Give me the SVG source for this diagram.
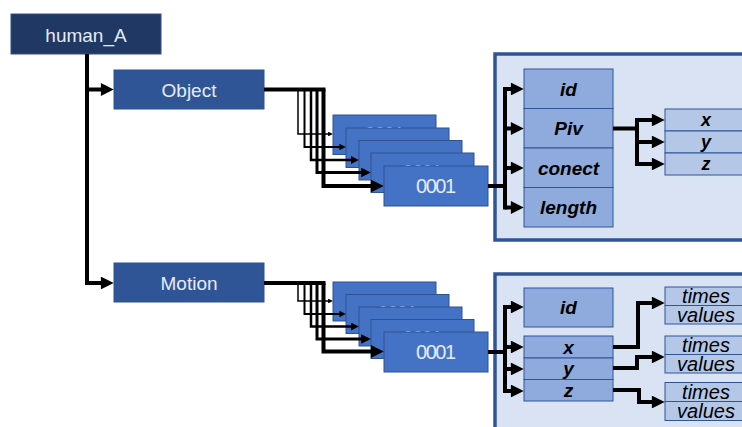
<svg xmlns="http://www.w3.org/2000/svg" width="742" height="427" viewBox="0 0 742 427">
  <defs>
    <!-- arrowhead scaled by stroke width; path ends 1.2 stroke widths before the tip -->
    <marker id="ah" viewBox="0 0 10 10" refX="6.5" refY="5" markerWidth="3.4" markerHeight="3.2" orient="auto" markerUnits="strokeWidth">
      <path d="M0,0 L10,5 L0,10 z" fill="#000"/>
    </marker>
    <style>
      .root { fill: #203864; stroke: #2F528F; stroke-width: 1; }
      .cat { fill: #2F5597; stroke: #2F528F; stroke-width: 1; }
      .rec { fill: #4472C4; stroke: #2F528F; stroke-width: 1; }
      .panel { fill: #DAE3F3; stroke: #2F5597; stroke-width: 3.5; }
      .field { fill: #8FAADC; stroke: #2F5597; stroke-width: 1; }
      .sub { fill: #B4C7E7; stroke: #2F5597; stroke-width: 1; }
      .lt { font-family: "Liberation Sans", Arial, sans-serif; fill: #E6ECF7; text-anchor: middle; dominant-baseline: central; }
      .num { font-family: "Liberation Sans", Arial, sans-serif; fill: #E6ECF7; text-anchor: middle; dominant-baseline: central; font-size: 20px; }
      .bi { font-family: "Liberation Sans", Arial, sans-serif; fill: #000; font-weight: bold; font-style: italic; text-anchor: middle; dominant-baseline: central; }
      .it { font-family: "Liberation Sans", Arial, sans-serif; fill: #000; font-style: italic; text-anchor: middle; dominant-baseline: central; font-size: 20px; }
      .ln { fill: none; stroke: #000; stroke-linejoin: miter; }
    </style>
  </defs>

  <!-- root -->
  <g id="human_A">
    <rect class="root" x="11" y="14" width="150" height="40"/>
    <text class="lt" x="86" y="35" font-size="19">human_A</text>
  </g>

  <!-- categories -->
  <g id="object">
    <rect class="cat" x="114" y="70" width="150" height="39"/>
    <text class="lt" x="189" y="90" font-size="19">Object</text>
  </g>
  <g id="motion">
    <rect class="cat" x="114" y="263" width="150" height="39"/>
    <text class="lt" x="189" y="283" font-size="19">Motion</text>
  </g>

  <!-- object records (stacked) -->
  <g id="obj-rec-1"><rect class="rec" x="333" y="115" width="103" height="39.5"/><text class="num" x="384.5" y="134" textLength="40">0001</text></g>
  <g id="obj-rec-2"><rect class="rec" x="346" y="128" width="103" height="39.5"/><text class="num" x="397.5" y="147" textLength="40">0001</text></g>
  <g id="obj-rec-3"><rect class="rec" x="359" y="140.5" width="103" height="39.5"/><text class="num" x="410.5" y="159.5" textLength="40">0001</text></g>
  <g id="obj-rec-4"><rect class="rec" x="371" y="153" width="103" height="39.5"/><text class="num" x="422.5" y="172" textLength="40">0001</text></g>
  <g id="obj-rec-5"><rect class="rec" x="384" y="166" width="104" height="40"/><text class="num" x="436" y="186" textLength="40">0001</text></g>

  <!-- motion records (stacked) -->
  <g id="mot-rec-1"><rect class="rec" x="333" y="282" width="103" height="39"/><text class="num" x="384.5" y="300.5" textLength="40">0001</text></g>
  <g id="mot-rec-2"><rect class="rec" x="346" y="294.5" width="103" height="39"/><text class="num" x="397.5" y="313" textLength="40">0001</text></g>
  <g id="mot-rec-3"><rect class="rec" x="359" y="307" width="103" height="39"/><text class="num" x="410.5" y="325.5" textLength="40">0001</text></g>
  <g id="mot-rec-4"><rect class="rec" x="371" y="319.5" width="103" height="39"/><text class="num" x="422.5" y="338" textLength="40">0001</text></g>
  <g id="mot-rec-5"><rect class="rec" x="384" y="332" width="104" height="40"/><text class="num" x="436" y="352" textLength="40">0001</text></g>

  <!-- object record detail -->
  <g id="object-detail">
    <rect class="panel" x="495" y="54" width="270" height="186"/>
    <g id="obj-id"><rect class="field" x="524" y="69" width="89" height="39.5"/><text class="bi" x="568.5" y="89" font-size="19">id</text></g>
    <g id="obj-piv"><rect class="field" x="524" y="108.5" width="89" height="39.5"/><text class="bi" x="568.5" y="128.5" font-size="19">Piv</text></g>
    <g id="obj-conect"><rect class="field" x="524" y="148" width="89" height="39.5"/><text class="bi" x="568.5" y="168" font-size="19">conect</text></g>
    <g id="obj-length"><rect class="field" x="524" y="187.5" width="89" height="39.5"/><text class="bi" x="568.5" y="207.5" font-size="19">length</text></g>
    <g id="piv-x"><rect class="sub" x="665" y="109" width="90" height="22"/><text class="bi" x="706" y="120" font-size="18">x</text></g>
    <g id="piv-y"><rect class="sub" x="665" y="131" width="90" height="22"/><text class="bi" x="706" y="142" font-size="18">y</text></g>
    <g id="piv-z"><rect class="sub" x="665" y="153" width="90" height="22"/><text class="bi" x="706" y="164" font-size="18">z</text></g>
  </g>

  <!-- motion record detail -->
  <g id="motion-detail">
    <rect class="panel" x="495" y="274" width="270" height="170"/>
    <g id="mot-id"><rect class="field" x="524" y="288" width="89" height="39"/><text class="bi" x="568.5" y="307.5" font-size="19">id</text></g>
    <g id="mot-x"><rect class="field" x="524" y="336" width="89" height="22"/><text class="bi" x="568.5" y="347" font-size="19">x</text></g>
    <g id="mot-y"><rect class="field" x="524" y="358" width="89" height="21.5"/><text class="bi" x="568.5" y="368.5" font-size="19">y</text></g>
    <g id="mot-z"><rect class="field" x="524" y="379.5" width="89" height="21.5"/><text class="bi" x="568.5" y="390" font-size="19">z</text></g>
    <g id="curve-x">
      <rect class="sub" x="665" y="287" width="90" height="18.5"/><text class="it" x="706" y="296">times</text>
      <rect class="sub" x="665" y="305.5" width="90" height="18.5"/><text class="it" x="706" y="314.5">values</text>
    </g>
    <g id="curve-y">
      <rect class="sub" x="665" y="336" width="90" height="18.5"/><text class="it" x="706" y="345">times</text>
      <rect class="sub" x="665" y="354.5" width="90" height="18.5"/><text class="it" x="706" y="363.5">values</text>
    </g>
    <g id="curve-z">
      <rect class="sub" x="665" y="382.5" width="90" height="19"/><text class="it" x="706" y="391.5">times</text>
      <rect class="sub" x="665" y="401.5" width="90" height="19"/><text class="it" x="706" y="410.5">values</text>
    </g>
  </g>

  <!-- connectors -->
  <g id="connectors">
    <!-- root to categories -->
    <path class="ln" stroke-width="4" d="M87,54 V283 H109.2" marker-end="url(#ah)"/>
    <path class="ln" stroke-width="4" d="M87,89.5 H109.2" marker-end="url(#ah)"/>

    <!-- Object fan-out -->
    <path class="ln" stroke-width="4" d="M264,89.5 H325.5"/>
    <path class="ln" stroke-width="1.5" d="M298,89.5 V134 H331.2" marker-end="url(#ah)"/>
    <path class="ln" stroke-width="2" d="M304.5,89.5 V147 H343.6" marker-end="url(#ah)"/>
    <path class="ln" stroke-width="2.5" d="M311,89.5 V160 H356" marker-end="url(#ah)"/>
    <path class="ln" stroke-width="3" d="M317,89.5 V172.5 H367.4" marker-end="url(#ah)"/>
    <path class="ln" stroke-width="4" d="M323.5,89.5 V186 H379.2" marker-end="url(#ah)"/>

    <!-- Motion fan-out -->
    <path class="ln" stroke-width="4" d="M264,283 H325.5"/>
    <path class="ln" stroke-width="1.5" d="M298,283 V301 H331.2" marker-end="url(#ah)"/>
    <path class="ln" stroke-width="2" d="M304.5,283 V314 H343.6" marker-end="url(#ah)"/>
    <path class="ln" stroke-width="2.5" d="M311,283 V326.5 H356" marker-end="url(#ah)"/>
    <path class="ln" stroke-width="3" d="M317,283 V339 H367.4" marker-end="url(#ah)"/>
    <path class="ln" stroke-width="4" d="M323.5,283 V351.5 H379.2" marker-end="url(#ah)"/>

    <!-- object record to fields -->
    <path class="ln" stroke-width="4" d="M488,186 H505"/>
    <path class="ln" stroke-width="4" d="M505,87 V209.5"/>
    <path class="ln" stroke-width="4" d="M505,89 H519.2" marker-end="url(#ah)"/>
    <path class="ln" stroke-width="4" d="M505,128.5 H519.2" marker-end="url(#ah)"/>
    <path class="ln" stroke-width="4" d="M505,168 H519.2" marker-end="url(#ah)"/>
    <path class="ln" stroke-width="4" d="M505,207.5 H519.2" marker-end="url(#ah)"/>

    <!-- Piv to x/y/z -->
    <path class="ln" stroke-width="4" d="M613,128.5 H637"/>
    <path class="ln" stroke-width="4" d="M637,118 V166"/>
    <path class="ln" stroke-width="4" d="M637,120 H660.2" marker-end="url(#ah)"/>
    <path class="ln" stroke-width="4" d="M637,142 H660.2" marker-end="url(#ah)"/>
    <path class="ln" stroke-width="4" d="M637,164 H660.2" marker-end="url(#ah)"/>

    <!-- motion record to fields -->
    <path class="ln" stroke-width="4" d="M488,352 H505"/>
    <path class="ln" stroke-width="4" d="M505,305 V393"/>
    <path class="ln" stroke-width="4" d="M505,307 H519.2" marker-end="url(#ah)"/>
    <path class="ln" stroke-width="4" d="M505,347 H519.2" marker-end="url(#ah)"/>
    <path class="ln" stroke-width="4" d="M505,369 H519.2" marker-end="url(#ah)"/>
    <path class="ln" stroke-width="4" d="M505,391 H519.2" marker-end="url(#ah)"/>

    <!-- x/y/z to curves -->
    <path class="ln" stroke-width="4" d="M613,347 H638 V303 H660.2" marker-end="url(#ah)"/>
    <path class="ln" stroke-width="4" d="M613,368 H637 V357 H660.2" marker-end="url(#ah)"/>
    <path class="ln" stroke-width="4" d="M613,390 H639 V402 H660.2" marker-end="url(#ah)"/>
  </g>
</svg>
